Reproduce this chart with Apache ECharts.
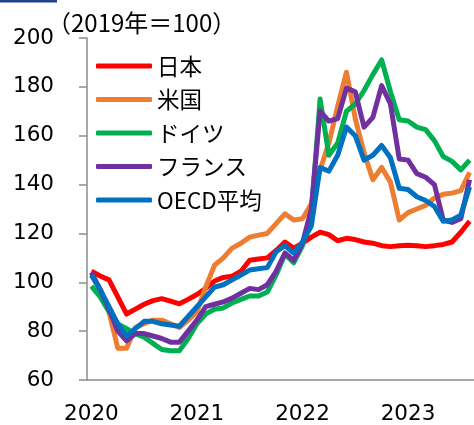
<!DOCTYPE html>
<html>
<head>
<meta charset="utf-8">
<script src="https://cdn.jsdelivr.net/npm/echarts@6/dist/echarts.min.js"></script>
<style>
  html, body { margin: 0; padding: 0; background: #fff; }
  #main { width: 474px; height: 425px; }
</style>
</head>
<body>
<div id="main"></div>
<script>
// monthly index, 2019 = 100, Jan 2020 .. Aug 2023
const months = [];
for (let y = 2020; y <= 2023; y++) {
  for (let m = 1; m <= 12; m++) {
    if (y === 2023 && m > 8) break;
    months.push(y + '-' + (m < 10 ? '0' + m : m));
  }
}
const yearLabels = ['2020', '2021', '2022', '2023'];

const japan = [104.5, 102.6, 101, 94, 87, 89, 91, 92.5, 93.3, 92.3, 91.2, 93,
  95, 97.5, 100.5, 102, 102.5, 104.5, 109, 109.5, 110, 113, 116.5, 114,
  116, 118.5, 120.5, 119.5, 117, 118, 117.5, 116.5, 116, 115, 114.6, 115,
  115.2, 115, 114.6, 115, 115.5, 116.5, 120.5, 125];
const usa = [103, 97, 88, 73, 73, 81.5, 83, 84.5, 84.5, 83, 81.5, 84.5,
  88, 98, 107, 110, 114, 116, 118.5, 119.3, 120, 124, 128, 125.5,
  126, 132, 146, 157, 172, 186, 167, 153, 142, 147, 141, 125.5,
  128.5, 130, 131.5, 134.5, 136, 136.5, 137.5, 145];
const germany = [98.4, 94, 88, 83, 81, 79, 77.5, 75, 72.5, 72, 72, 77,
  83, 87, 89, 89.5, 91.5, 93, 94.4, 94.4, 96, 103, 111.5, 108,
  115, 128, 175, 152, 157, 170, 173, 178.5, 185, 191, 178, 166.5,
  166, 163.5, 162.5, 158, 151.5, 149.5, 146, 150];
const france = [104, 97, 89, 80, 76, 79, 79, 78, 77, 75.5, 75.5, 80,
  84.5, 90, 91, 92, 93.5, 95.5, 97.5, 97, 99, 104.5, 112, 109,
  116, 130, 170, 166, 167, 179.5, 178, 163.5, 167.5, 180.5, 173, 150.5,
  150, 144.5, 143, 140, 125.5, 124.5, 126, 142];
const oecd = [103, 97, 90, 83, 78, 81, 84, 84, 83, 82.5, 82, 86,
  90, 94, 98, 99, 101, 103, 105, 105.5, 106, 112.5, 115, 112,
  116.5, 123, 147, 145.5, 152, 163.5, 160, 150, 152, 156, 151, 138.5,
  138, 135, 133.5, 131, 125, 125.5, 127.5, 139];

const seriesNames = ['日本', '米国', 'ドイツ', 'フランス', 'OECD平均'];
const seriesColors = ['#ff0000', '#ed7d31', '#00b050', '#7030a0', '#0070c0'];
const seriesData = [japan, usa, germany, france, oecd];

const axisColor = '#8c8c8c';
const numFont = 'DejaVu Sans';
const jpFont = 'Noto Sans CJK JP';

const chart = echarts.init(document.getElementById('main'));

chart.setOption({
  animation: false,
  backgroundColor: '#fff',
  title: {
    text: '（2019年＝100）',
    left: 42,
    top: 5,
    textStyle: { fontFamily: jpFont, fontSize: 24, fontWeight: 'normal', color: '#000', lineHeight: 26 }
  },
  graphic: [{
    type: 'rect',
    shape: { x: 0, y: 0, width: 57, height: 2.5 },
    style: { fill: '#1f3f8f' }
  }],
  legend: {
    orient: 'vertical',
    left: 91,
    top: 49,
    itemWidth: 56,
    itemHeight: 5,
    itemGap: 9.5,
    icon: 'roundRect',
    data: seriesNames,
    textStyle: { fontFamily: jpFont, fontSize: 22.5, color: '#000', lineHeight: 24 }
  },
  grid: { left: 87, right: -1.5, top: 38, bottom: 42 },
  xAxis: {
    type: 'category',
    data: months,
    boundaryGap: true,
    axisLine: { lineStyle: { color: axisColor, width: 1.5 } },
    axisTick: {
      length: 8,
      interval: 11,
      lineStyle: { color: axisColor, width: 1.5 }
    },
    axisLabel: {
      interval: 11,
      margin: 23,
      fontFamily: numFont,
      fontSize: 21.5,
      color: '#000',
      formatter: v => v.slice(0, 4)
    }
  },
  yAxis: {
    type: 'value',
    min: 60,
    max: 200,
    interval: 20,
    splitLine: { show: false },
    axisLine: { show: true, lineStyle: { color: axisColor, width: 1.5 } },
    axisTick: { show: true, length: 8, lineStyle: { color: axisColor, width: 1.5 } },
    axisLabel: { margin: 33, fontFamily: numFont, fontSize: 21.5, color: '#000' }
  },
  series: seriesNames.map((name, k) => ({
    name: name,
    type: 'line',
    data: seriesData[k],
    showSymbol: false,
    symbol: 'none',
    color: seriesColors[k],
    lineStyle: { width: 5, color: seriesColors[k], join: 'round' },
    z: 2 + k
  }))
});
</script>
</body>
</html>
